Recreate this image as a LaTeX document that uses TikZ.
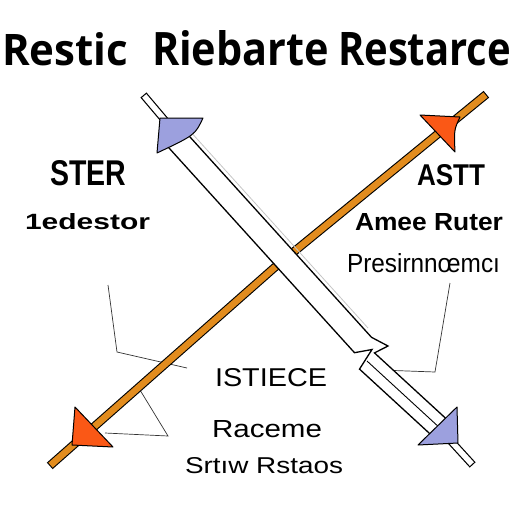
\documentclass[tikz,border=0pt]{standalone}
\usepackage{fontspec}
\setmainfont{Liberation Sans}
\newfontfamily\titlefont{Open Sans}
\usepackage{graphicx}
\definecolor{rodorange}{RGB}{226,140,30}
\definecolor{finorange}{RGB}{250,88,22}
\definecolor{finblue}{RGB}{156,160,222}

\begin{document}
\begin{tikzpicture}[x=1pt,y=-1pt,
    lbl/.style={anchor=base west, inner sep=0pt, outer sep=0pt},
    leader/.style={line width=0.7pt, black!80},
    fin/.style={draw=black, line width=1pt, line join=round},
    stub/.style={line width=1.2pt, double=white, double distance=5.5pt, line cap=rect}]
    \useasboundingbox (0,0) rectangle (512,512);

    % Title
    \node[lbl] (tRestic) at (2,65) {\resizebox{126pt}{33pt}{\titlefont\bfseries Restic}};
    \node[lbl] (tRiebarte) at (152,65) {\resizebox{177pt}{35pt}{\titlefont\bfseries Riebarte}};
    \node[lbl] (tRestarce) at (338,65) {\resizebox{173pt}{33pt}{\titlefont\bfseries Restarce}};

    % Labels
    \node[lbl] (ster) at (50,185) {\resizebox{76pt}{25pt}{\bfseries STER}};
    \node[lbl] (edestor) at (25,229) {\resizebox{125pt}{16pt}{\bfseries 1edestor}};
    \node[lbl] (astt) at (417,185) {\resizebox{68pt}{21pt}{\bfseries ASTT}};
    \node[lbl] (amee) at (355,230) {\resizebox{148pt}{17pt}{\bfseries Amee Ruter}};
    \node[lbl] (presir) at (347,272) {\resizebox{153pt}{19pt}{Presirnnœmcı}};
    \node[lbl] (istiece) at (215,386) {\resizebox{112pt}{18pt}{ISTIECE}};
    \node[lbl] (raceme) at (212,437) {\resizebox{110pt}{17pt}{Raceme}};
    \node[lbl] (srtiw) at (185,473) {\resizebox{158pt}{16pt}{Srtıw Rstaos}};

    % Points
    \coordinate (orA) at (53,463);
    \coordinate (orM) at (274,268);
    \coordinate (orB) at (483,97);
    \coordinate (wsA) at (146,98);
    \coordinate (wsB) at (168,124);
    \coordinate (wsC) at (449,439);
    \coordinate (wsD) at (470,462);
    \coordinate (ldA1) at (108,285);
    \coordinate (ldA2) at (117,352);
    \coordinate (ldA3) at (187,368);
    \coordinate (ldB1) at (140,390);
    \coordinate (ldB2) at (168,436);
    \coordinate (ldB3) at (105,433);
    \coordinate (ldC1) at (450,283);
    \coordinate (ldC2) at (435,372);
    \coordinate (ldC3) at (380,370);

    % Leader lines
    \draw[leader] (ldA1) -- (ldA2) -- (ldA3);
    \draw[leader] (ldB1) -- (ldB2) -- (ldB3);
    \draw[leader] (ldC1) -- (ldC2) -- (ldC3);

    % Orange rod
    \draw[line width=1.1pt, double=rodorange, double distance=6.5pt, line cap=rect, line join=round]
        (orA) -- (orM) -- (orB);

    % White rod
    \draw[stub] (wsA) -- (wsB);
    \draw[stub] (wsC) -- (wsD);
    \filldraw[fill=white, line width=1.3pt, line join=miter]
        (178.5,124.3) -- (371.5,337.3) -- (388,346) -- (374.5,352.9) -- (448.5,420.9)
        -- (433.5,437.1) -- (359.5,369.1) -- (372,349.5) -- (354.5,352.7) -- (161.5,139.7) -- cycle;
    \draw[line width=0.9pt] (367,361) -- (441,429);
    \draw[gray!45, line width=0.8pt] (189,130) -- (368,328);

    % Fins
    \filldraw[fin, fill=finblue] (160,118) -- (203,118) .. controls (195,135) .. (157,153) -- cycle;
    \filldraw[fin, fill=finblue] (457,407) -- (458,443) -- (418,445) -- cycle;
    \filldraw[fin, fill=finorange] (420,115) -- (460,117) .. controls (454,130) .. (455,152) -- cycle;
    \filldraw[fin, fill=finorange] (75,407) -- (113,447) -- (72,445) -- cycle;
\end{tikzpicture}
\end{document}
